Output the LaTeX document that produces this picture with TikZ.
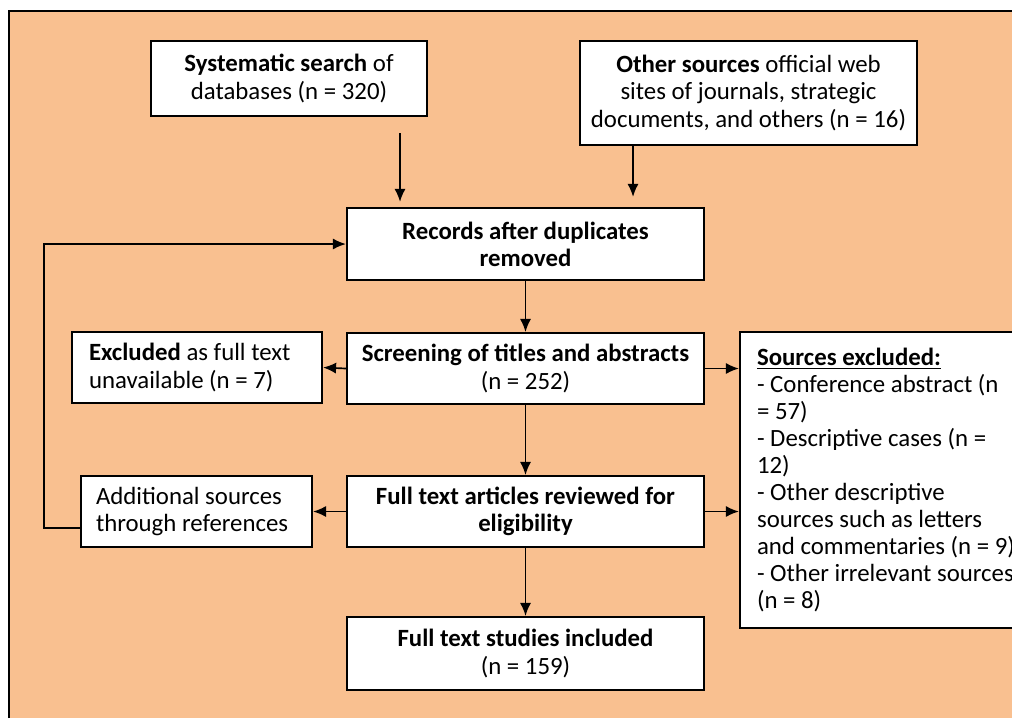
\documentclass[tikz,border=0pt]{standalone}
\usepackage{fontspec}
\setmainfont{Carlito}
\usepackage{xcolor}
\usetikzlibrary{arrows.meta}
\definecolor{peach}{RGB}{249,192,144}

\begin{document}
\begin{tikzpicture}[x=0.54pt, y=-0.54pt, font=\fontsize{13.4}{14.6}\selectfont,
    >={Latex[length=7pt,width=6pt]}, line width=0.9pt,
    box/.style={draw, rectangle, fill=white, line width=1.2pt, align=center, inner sep=0pt},
    lbox/.style={box, align=flush left, inner xsep=9.2pt}]
  \useasboundingbox (0,0) rectangle (1012,718);
  \clip (0,0) rectangle (1012,718);
  \fill[peach] (9,11) rectangle (1012,718);
  \draw[line width=1.2pt] (9,718) -- (9,11) -- (1012,11);

  \node[box, minimum width=149pt, minimum height=40.5pt] (sys) at (289,78.5)
    {\textbf{Systematic search} of\\databases (n = 320)};
  \node[box, minimum width=182pt, minimum height=56.2pt] (other) at (748.5,93)
    {\textbf{Other sources} official web\\sites of journals, strategic\\documents, and others (n = 16)};
  \node[box, minimum width=192.8pt, minimum height=38.9pt] (rec) at (525.5,244)
    {\textbf{Records after duplicates}\\\textbf{removed}};
  \node[box, minimum width=192.8pt, minimum height=38.3pt] (scr) at (525.5,368.5)
    {\textbf{Screening of titles and abstracts}\\(n = 252)};
  \node[lbox, text width=116.6pt, minimum height=38.3pt] (excl) at (197,367.5)
    {\textbf{Excluded} as full text\\unavailable (n = 7)};
  \node[box, minimum width=192.8pt, minimum height=38.3pt] (full) at (525.5,511.5)
    {\textbf{Full text articles reviewed for}\\\textbf{eligibility}};
  \node[lbox, text width=108.5pt, inner xsep=8.1pt, minimum height=38.3pt] (add) at (196.5,511.5)
    {Additional sources\\through references};
  \node[box, minimum width=192.8pt, minimum height=39.4pt] (incl) at (525.5,653.5)
    {\textbf{Full text studies included}\\(n = 159)};
  \node[lbox, text width=149pt, minimum height=159.8pt] (srcex) at (895,480)
    {\underline{\textbf{Sources excluded:}}\\- Conference abstract (n\\= 57)\\- Descriptive cases (n =\\12)\\- Other descriptive\\sources such as letters\\and commentaries (n = 9)\\- Other irrelevant sources\\(n = 8)};

  % inputs
  \coordinate (a1) at (400,133);
  \coordinate (a2) at (633,0);
  \draw[->, shorten >=2.7pt] (a1) -- (a1 |- rec.north);
  \draw[->, shorten >=5.4pt] (other.south -| a2) -- (rec.north -| a2);

  % main flow
  \draw[->] (rec) -- (scr);
  \draw[->] (scr) -- (full);
  \draw[->] (full) -- (incl);
  \draw[->] (scr.west) -- (excl.east);
  \draw[->] (scr.east) -- (scr.east -| srcex.west);
  \draw[->] (full.west) -- (add.east);
  \draw[->] (full.east) -- (full.east -| srcex.west);

  % back to records
  \draw[->] ([yshift=-8.9pt]add.west) -- ++(-36,0) |- (rec.west);
\end{tikzpicture}
\end{document}
